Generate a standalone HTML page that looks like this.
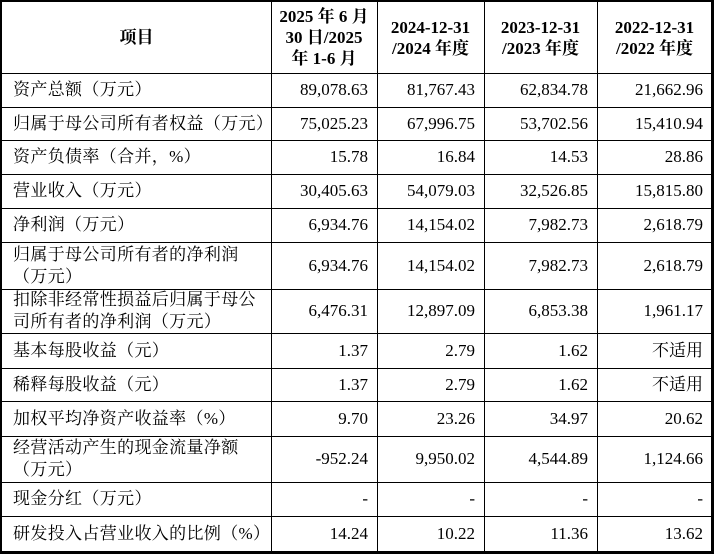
<!DOCTYPE html>
<html><head><meta charset="utf-8"><style>
body{margin:0;width:714px;height:554px;background:#fff;overflow:hidden;position:relative;
font-family:"Liberation Serif","Noto Serif CJK SC",serif;font-size:17px;color:#000}
.c{position:absolute;display:flex;align-items:center;box-sizing:border-box;line-height:22px;white-space:nowrap}
.l{justify-content:flex-start;padding-left:11px;letter-spacing:0.35px}
.r{justify-content:flex-end;padding-right:9px}
.h{justify-content:center;text-align:center;font-weight:bold;line-height:21px}
.hl{position:absolute;left:0;width:714px;height:1px;background:#000}
.vl{position:absolute;top:0;height:554px;width:1px;background:#000}
</style></head><body>
<div id="g"></div>
<script>
var xs=[2,271,377,484,597,712];
var ys=[2,73,107,140,174,208,242,289,333,368,401,436,482,516,551];
var hdr=["项目","2025 年 6 月<br>30 日/2025<br>年 1-6 月","2024-12-31<br>/2024 年度","2023-12-31<br>/2023 年度","2022-12-31<br>/2022 年度"];
var rows=[
["资产总额（万元）","89,078.63","81,767.43","62,834.78","21,662.96"],
["归属于母公司所有者权益（万元）","75,025.23","67,996.75","53,702.56","15,410.94"],
["资产负债率（合并，%）","15.78","16.84","14.53","28.86"],
["营业收入（万元）","30,405.63","54,079.03","32,526.85","15,815.80"],
["净利润（万元）","6,934.76","14,154.02","7,982.73","2,618.79"],
["归属于母公司所有者的净利润<br>（万元）","6,934.76","14,154.02","7,982.73","2,618.79"],
["扣除非经常性损益后归属于母公<br>司所有者的净利润（万元）","6,476.31","12,897.09","6,853.38","1,961.17"],
["基本每股收益（元）","1.37","2.79","1.62","不适用"],
["稀释每股收益（元）","1.37","2.79","1.62","不适用"],
["加权平均净资产收益率（%）","9.70","23.26","34.97","20.62"],
["经营活动产生的现金流量净额<br>（万元）","-952.24","9,950.02","4,544.89","1,124.66"],
["现金分红（万元）","-","-","-","-"],
["研发投入占营业收入的比例（%）","14.24","10.22","11.36","13.62"]];
var h="";
function cell(cls,x0,x1,y0,y1,t){h+='<div class="c '+cls+'" style="left:'+x0+'px;width:'+(x1-x0)+'px;top:'+y0+'px;height:'+(y1-y0)+'px">'+(cls=="l"?'<div>'+t+'</div>':t)+'</div>';}
for(var j=0;j<5;j++)cell("h",xs[j],xs[j+1],ys[0],ys[1],hdr[j]);
for(var i=0;i<rows.length;i++)for(var j=0;j<5;j++)cell(j?"r":"l",xs[j],xs[j+1],ys[i+1],ys[i+2],rows[i][j]);
for(var i=1;i<ys.length-1;i++)h+='<div class="hl" style="top:'+ys[i]+'px"></div>';
for(var j=1;j<xs.length-1;j++)h+='<div class="vl" style="left:'+xs[j]+'px"></div>';
h+='<div style="position:absolute;left:0;top:0;width:714px;height:554px;box-sizing:border-box;border:3px solid #000;border-top-width:2px;border-left-width:2px"></div>';
document.getElementById("g").innerHTML=h;
</script>
</body></html>
